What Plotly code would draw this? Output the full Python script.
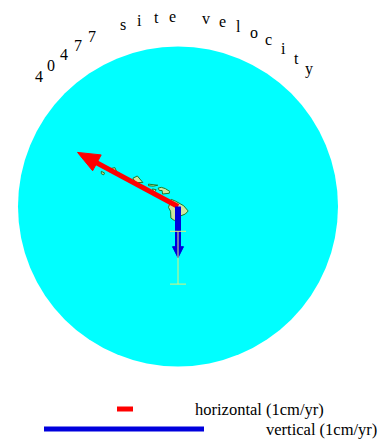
import numpy as np
import plotly.graph_objects as go

# ---------------- data ----------------
title_text = "40477 site velocity"
site_lon, site_lat = -155.456, 19.801          # site 40477 (Mauna Kea)
v_east, v_north = -6.28, 3.38                  # horizontal velocity, cm/yr
v_up, sig_up = -0.32, 0.165                    # vertical velocity and sigma, cm/yr
legend_labels = ["horizontal (1cm/yr)", "vertical (1cm/yr)"]

# coarse island outlines (lon, lat)
hawaii_lon = [-155.88, -155.60, -155.10, -154.82, -155.00, -155.50, -155.68, -155.90, -155.92, -156.05, -155.88]
hawaii_lat = [20.25, 20.13, 19.85, 19.52, 19.33, 19.13, 18.92, 19.08, 19.50, 19.75, 20.25]
maui_lon = [-156.70, -156.50, -156.25, -155.98, -156.00, -156.42, -156.45, -156.62, -156.70]
maui_lat = [20.95, 21.00, 20.92, 20.75, 20.63, 20.58, 20.80, 20.80, 20.95]
molokai_lon = [-157.30, -156.90, -156.72, -157.00, -157.30, -157.30]
molokai_lat = [21.20, 21.17, 21.13, 21.07, 21.10, 21.20]
lanai_lon = [-157.05, -156.82, -156.90, -157.00, -157.05]
lanai_lat = [20.90, 20.85, 20.73, 20.75, 20.90]
oahu_lon = [-158.27, -158.00, -157.65, -157.95, -158.13, -158.27]
oahu_lat = [21.57, 21.71, 21.30, 21.30, 21.30, 21.57]
kauai_lon = [-159.75, -159.40, -159.30, -159.45, -159.75, -159.75]
kauai_lat = [22.15, 22.23, 22.00, 21.88, 21.97, 22.15]
niihau_lon = [-160.25, -160.05, -160.10, -160.25, -160.25]
niihau_lat = [22.00, 21.90, 21.78, 21.85, 22.00]

# ---------------- scales / layout constants ----------------
W, H = 383, 439
PX = 16.0                 # pixels per map unit (1 deg = 1 cm/yr horizontal)
CX, CY = 178.0, 206.5     # pixel position of the site
map_radius = 10.0         # circle radius in map units
horiz_scale = 1.0         # map units per cm/yr (horizontal)
vert_scale = 10.0         # map units per cm/yr (vertical)

xr = [-CX / PX, (W - CX) / PX]
yr = [-(H - CY) / PX, CY / PX]

fig = go.Figure()

# circle background
fig.add_shape(type="circle", xref="x", yref="y",
              x0=-map_radius, y0=-map_radius, x1=map_radius, y1=map_radius,
              fillcolor="#00ffff", line=dict(width=0), layer="below")

# islands
for lo, la in [(hawaii_lon, hawaii_lat), (maui_lon, maui_lat), (molokai_lon, molokai_lat),
               (lanai_lon, lanai_lat), (oahu_lon, oahu_lat), (kauai_lon, kauai_lat),
               (niihau_lon, niihau_lat)]:
    fig.add_trace(go.Scatter(x=np.array(lo) - site_lon, y=np.array(la) - site_lat,
                             mode="lines", fill="toself", fillcolor="#cfe6a0",
                             line=dict(color="#1e7a28", width=1), hoverinfo="skip",
                             showlegend=False))


def arrow(dx, dy, color, shaft_w, head_len, head_hw):
    v = np.array([dx, dy], float)
    n = np.linalg.norm(v)
    u = v / n
    p = np.array([-u[1], u[0]])
    base = v - u * head_len
    shaft_end = v - u * head_len * 0.6
    fig.add_trace(go.Scatter(x=[0, shaft_end[0]], y=[0, shaft_end[1]], mode="lines",
                             line=dict(color=color, width=shaft_w), hoverinfo="skip",
                             showlegend=False))
    tri = np.array([v, base + p * head_hw, base - p * head_hw, v])
    fig.add_trace(go.Scatter(x=tri[:, 0], y=tri[:, 1], mode="lines", fill="toself",
                             fillcolor=color, line=dict(color=color, width=1),
                             hoverinfo="skip", showlegend=False))


# horizontal velocity (red)
arrow(v_east * horiz_scale, v_north * horiz_scale, "#ff0000", 5, 22 / PX, 9 / PX)
# vertical velocity (blue)
arrow(0, v_up * vert_scale, "#0000dd", 6, 11 / PX, 5.5 / PX)

# vertical error bar (yellow)
fig.add_trace(go.Scatter(x=[0], y=[v_up * vert_scale], mode="markers",
                         marker=dict(size=1, color="rgba(0,0,0,0)"),
                         error_y=dict(type="data", array=[sig_up * vert_scale], visible=True,
                                      color="#dff07a", thickness=1, width=8),
                         hoverinfo="skip", showlegend=False))

# scale legend
leg_red_y = (CY - 409) / PX
leg_blue_y = (CY - 429) / PX
leg_red_x0 = (117 - CX) / PX
leg_blue_x0 = (44 - CX) / PX
fig.add_trace(go.Scatter(x=[leg_red_x0, leg_red_x0 + 1 * horiz_scale], y=[leg_red_y, leg_red_y],
                         mode="lines", line=dict(color="#ff0000", width=5),
                         hoverinfo="skip", showlegend=False))
fig.add_trace(go.Scatter(x=[leg_blue_x0, leg_blue_x0 + 1 * vert_scale], y=[leg_blue_y, leg_blue_y],
                         mode="lines", line=dict(color="#0000dd", width=5),
                         hoverinfo="skip", showlegend=False))
serif = "Liberation Serif, Times New Roman, serif"
fig.add_annotation(x=(193 - CX) / PX, y=leg_red_y, text=legend_labels[0], showarrow=False,
                   xanchor="left", yanchor="middle", font=dict(family=serif, size=16.5, color="black"))
fig.add_annotation(x=(264 - CX) / PX, y=leg_blue_y, text=legend_labels[1], showarrow=False,
                   xanchor="left", yanchor="middle", font=dict(family=serif, size=16.5, color="black"))

# curved title
R_title = 190 / PX
a0, a1 = np.deg2rad(136.9), np.deg2rad(46.3)
angs = np.linspace(a0, a1, len(title_text))
for ch, a in zip(title_text, angs):
    if ch == " ":
        continue
    fig.add_annotation(x=R_title * np.cos(a), y=R_title * np.sin(a), text=ch, showarrow=False,
                       xanchor="center", yanchor="middle",
                       font=dict(family=serif, size=16, color="black"))

fig.update_layout(width=W, height=H, margin=dict(l=0, r=0, t=0, b=0),
                  paper_bgcolor="white", plot_bgcolor="white",
                  xaxis=dict(range=xr, visible=False, fixedrange=True),
                  yaxis=dict(range=yr, visible=False, fixedrange=True))

fig.write_html("out.html", config={"displayModeBar": False},
               post_script="document.body.style.margin='0';document.body.style.overflow='hidden';")
